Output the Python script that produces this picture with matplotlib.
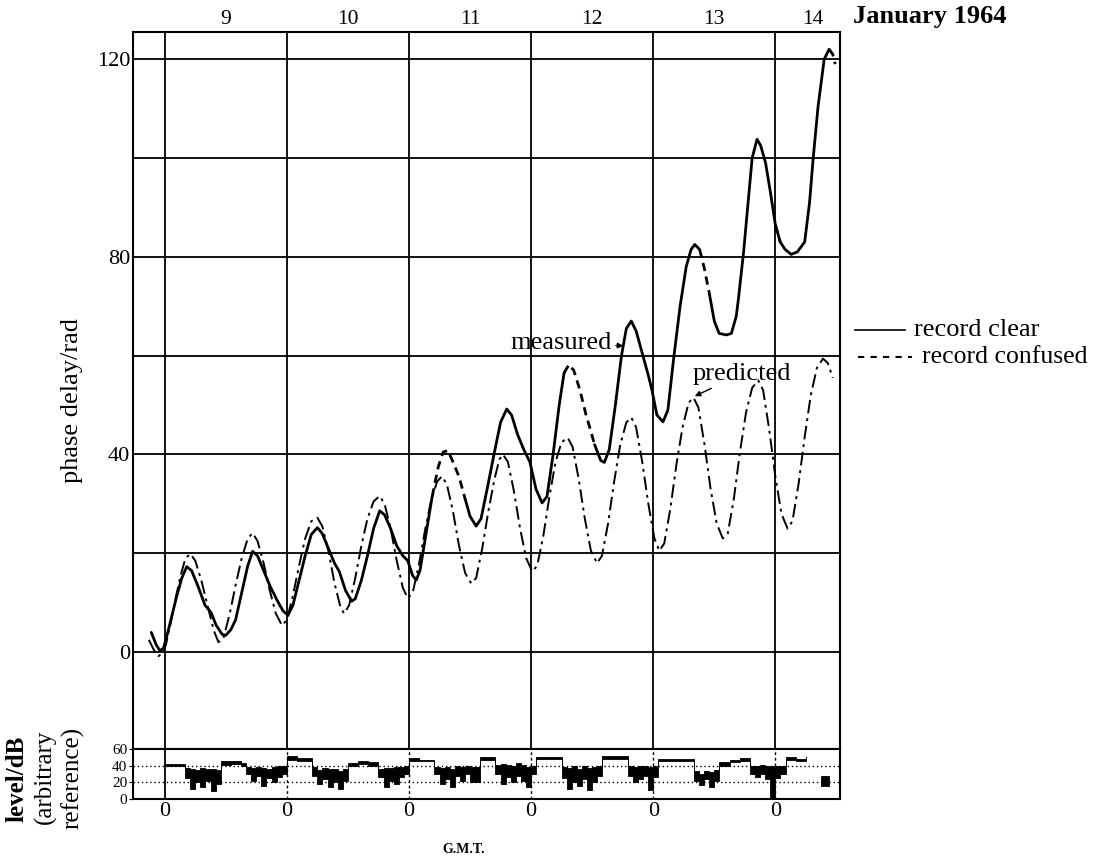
import matplotlib
matplotlib.use('Agg')
import matplotlib.pyplot as plt
import numpy as np
from matplotlib.lines import Line2D

plt.rcParams['font.family'] = ['Liberation Serif', 'DejaVu Serif']

# days after 0h GMT on 9 January 1964
meas_t = [-0.11, -0.07, -0.04, -0.01, 0.02, 0.06, 0.10, 0.14, 0.18, 0.22, 0.27, 0.33, 0.38, 0.42, 0.47, 0.50,
          0.54, 0.58, 0.63, 0.68, 0.72, 0.76, 0.81, 0.86, 0.92, 0.97, 1.01, 1.05, 1.10, 1.15, 1.20, 1.25,
          1.29, 1.34, 1.39, 1.43, 1.48, 1.53, 1.56, 1.61, 1.66, 1.71, 1.76, 1.80, 1.85, 1.90, 1.95, 1.99,
          2.03, 2.06, 2.09, 2.14, 2.19, 2.24, 2.28, 2.32, 2.36, 2.41, 2.46, 2.50, 2.55, 2.59, 2.64, 2.70,
          2.75, 2.80, 2.84, 2.89, 2.94, 2.99, 3.04, 3.09, 3.13, 3.18, 3.23, 3.27, 3.31, 3.35, 3.40, 3.45,
          3.48, 3.52, 3.57, 3.60, 3.64, 3.69, 3.74, 3.78, 3.82, 3.86, 3.91, 3.96, 3.99, 4.03, 4.08, 4.12,
          4.17, 4.22, 4.27, 4.31, 4.34, 4.38, 4.42, 4.46, 4.50, 4.54, 4.60, 4.64, 4.68, 4.70, 4.74, 4.78,
          4.81, 4.85, 4.88, 4.92, 4.96, 5.00, 5.04, 5.08, 5.13, 5.18, 5.21, 5.24, 5.28, 5.31, 5.35, 5.40,
          5.44, 5.47, 5.49]
meas_p = [4.0, 1.5, 0.3, 0.8, 3.5, 7.5, 11.5, 15.0, 17.3, 16.5, 13.5, 9.5, 8.0, 5.5, 3.6, 3.4,
          4.5, 6.5, 12.0, 17.5, 20.4, 19.5, 16.5, 13.5, 10.5, 8.3, 7.5, 9.5, 14.5, 19.5, 23.8, 25.2,
          24.0, 21.0, 18.0, 16.3, 12.5, 10.3, 10.8, 14.5, 19.5, 25.0, 28.6, 27.8, 25.0, 21.5, 19.5, 18.5,
          15.5, 14.6, 16.5, 24.0, 31.5, 37.5, 40.5, 40.8, 38.5, 35.5, 31.0, 27.5, 25.5, 27.0, 33.0, 40.5,
          46.5, 49.2, 48.0, 44.0, 41.0, 38.5, 33.0, 30.2, 31.5, 40.0, 50.0, 56.5, 58.2, 57.0, 53.0, 48.0,
          45.5, 42.0, 38.8, 38.4, 41.0, 50.0, 60.0, 65.5, 67.0, 65.0, 60.5, 56.0, 53.0, 48.0, 46.6, 49.0,
          60.0, 70.0, 78.0, 81.5, 82.5, 81.5, 77.5, 72.5, 67.0, 64.5, 64.2, 64.5, 68.0, 72.0, 81.0, 92.0,
          100.0, 103.8, 102.5, 99.0, 93.0, 86.5, 83.0, 81.5, 80.5, 81.0, 82.0, 83.0, 91.0, 100.0, 110.5, 120.0,
          122.0, 121.0, 119.0]
confused = [(2.19, 2.46), (3.27, 3.52), (4.38, 4.46), (5.00, 5.04), (5.44, 5.49)]

pred_t = [-0.13, -0.09, -0.05, -0.02, 0.01, 0.05, 0.09, 0.13, 0.17, 0.21, 0.25, 0.30, 0.35, 0.40, 0.44, 0.48,
          0.53, 0.58, 0.63, 0.68, 0.72, 0.76, 0.81, 0.86, 0.91, 0.96, 1.00, 1.05, 1.10, 1.15, 1.20, 1.25,
          1.29, 1.34, 1.39, 1.44, 1.47, 1.51, 1.56, 1.61, 1.66, 1.71, 1.76, 1.80, 1.85, 1.90, 1.95, 1.99,
          2.03, 2.08, 2.13, 2.18, 2.23, 2.27, 2.31, 2.36, 2.41, 2.46, 2.51, 2.55, 2.60, 2.65, 2.70, 2.74,
          2.77, 2.81, 2.86, 2.91, 2.96, 3.01, 3.05, 3.10, 3.15, 3.20, 3.25, 3.30, 3.34, 3.39, 3.44, 3.49,
          3.54, 3.58, 3.63, 3.68, 3.73, 3.78, 3.82, 3.86, 3.91, 3.96, 4.01, 4.05, 4.09, 4.14, 4.19, 4.24,
          4.29, 4.33, 4.37, 4.42, 4.47, 4.52, 4.57, 4.61, 4.66, 4.71, 4.76, 4.81, 4.86, 4.90, 4.95, 5.00,
          5.05, 5.10, 5.14, 5.19, 5.24, 5.29, 5.34, 5.39, 5.43, 5.47]
pred_p = [2.5, 0.5, -0.8, -0.2, 1.5, 6.0, 11.0, 15.5, 19.0, 19.9, 18.5, 14.5, 9.5, 4.5, 2.0, 2.8,
          7.5, 13.5, 19.0, 23.0, 24.1, 22.5, 18.0, 12.5, 7.8, 5.4, 6.5, 11.5, 17.5, 23.0, 26.5, 27.2,
          25.5, 20.5, 14.0, 9.0, 7.8, 9.5, 15.0, 21.5, 27.0, 30.5, 31.6, 30.0, 25.0, 18.5, 13.0, 10.9,
          12.0, 17.5, 24.5, 30.5, 34.5, 35.6, 34.0, 28.5, 21.5, 16.0, 13.9, 15.0, 21.0, 28.5, 35.0, 39.0,
          40.0, 38.5, 32.5, 25.0, 19.0, 16.3, 17.5, 23.5, 31.5, 38.5, 42.5, 43.4, 41.5, 35.0, 27.0, 20.5,
          18.0, 19.5, 26.0, 34.5, 42.0, 46.5, 47.5, 45.5, 38.5, 30.0, 23.0, 20.5, 22.0, 29.0, 38.0, 45.5,
          50.5, 51.5, 49.5, 42.0, 33.0, 26.0, 23.0, 24.0, 31.0, 40.5, 48.5, 53.5, 55.0, 53.0, 45.0, 35.5,
          28.0, 25.0, 26.5, 34.0, 43.5, 52.0, 57.5, 59.4, 58.5, 55.5]

# signal level, hours after 0h GMT on 9 January (step starts)
lvl_h = [0, 4, 5, 6, 7, 8, 9, 10, 11, 13, 15, 16, 17, 18, 19, 20, 21, 22, 23,
         24, 26, 29, 30, 31, 32, 33, 34, 35, 36, 38, 40, 42, 43, 44, 45, 46, 47,
         48, 50, 53, 54, 55, 56, 57, 58, 59, 60, 62, 65, 66, 67, 68, 69, 70, 71, 72,
         73, 78, 79, 80, 81, 82, 83, 84, 85, 86, 91, 92, 93, 94, 95, 96, 97,
         98, 104, 105, 106, 107, 108, 109, 111, 113, 115, 116, 117, 118, 119, 120, 121,
         122, 124, 126, 128, 129, 130.5]
lvl_lo = [39, 25, 12, 20, 14, 22, 10, 18, 41, 42, 40, 30, 22, 28, 16, 25, 20, 26, 30,
          47, 46, 28, 18, 24, 14, 20, 12, 22, 40, 42, 40, 26, 14, 22, 18, 26, 30,
          46, 45, 30, 18, 24, 15, 28, 22, 30, 20, 47, 30, 18, 26, 20, 28, 22, 14, 30,
          48, 25, 12, 20, 16, 24, 11, 20, 28, 48, 28, 20, 24, 28, 11, 26, 46,
          45, 22, 17, 24, 15, 22, 40, 44, 45, 30, 26, 30, 24, 1, 25, 30,
          47, 45, 48, np.nan, 16, 16]
lvl_hi = [42, 37, 36, 35, 37, 36, 36, 35, 45, 46, 43, 38, 37, 38, 37, 36, 38, 39, 40,
          51, 49, 38, 35, 37, 36, 36, 33, 36, 43, 45, 44, 36, 37, 37, 38, 38, 40,
          49, 47, 38, 37, 38, 36, 39, 38, 40, 38, 50, 41, 42, 41, 40, 43, 41, 38, 40,
          50, 38, 37, 39, 36, 39, 37, 38, 40, 51, 39, 38, 39, 40, 38, 39, 48,
          48, 34, 30, 34, 32, 35, 44, 47, 49, 40, 40, 41, 40, 40, 39, 40,
          50, 48, 50, np.nan, 27, 27]

day_labels = ['9', '10', '11', '12', '13', '14']
day_label_pos = [0.5, 1.5, 2.5, 3.5, 4.5, 5.31]

fig = plt.figure(figsize=(10.98, 8.61), dpi=100)
ax = fig.add_axes([0.1211, 0.1301, 0.644, 0.8327])
lax = fig.add_axes([0.1211, 0.0720, 0.644, 0.0581])
xlim = (-0.26, 5.53)

# main panel
for y in range(0, 121, 20):
    ax.axhline(y, color='black', lw=1.3, zorder=1)
for d in range(6):
    ax.axvline(d, color='black', lw=1.3, zorder=1)

t = np.array(meas_t)
p = np.array(meas_p)
inside = np.zeros(len(t), dtype=bool)
closed = np.zeros(len(t), dtype=bool)
for a, b in confused:
    inside |= (t > a) & (t < b)
    closed |= (t >= a) & (t <= b)
ax.plot(t, np.where(inside, np.nan, p), color='black', lw=2.0, solid_capstyle='round', zorder=3)
ax.plot(t, np.where(closed, p, np.nan), color='black', lw=2.0, linestyle=(0, (3, 2)), zorder=3)
ax.plot(pred_t, pred_p, color='black', lw=1.4, linestyle=(0, (7, 2.5, 1.5, 2.5)), zorder=2)

ax.set_xlim(*xlim)
ax.set_ylim(-19.6, 125.5)
ax.set_yticks([0, 40, 80, 120])
ax.set_xticks([])
ax.tick_params(axis='y', length=0, pad=2, labelsize=16)
for s in ax.spines.values():
    s.set_linewidth(1.5)

for lab, x in zip(day_labels, day_label_pos):
    ax.text(x, 1.004, lab, transform=ax.get_xaxis_transform(), ha='center', va='bottom', fontsize=15.5)

ax.annotate('measured', xy=(3.755, 62.0), xytext=(3.66, 62.5), ha='right', va='center', fontsize=19,
            arrowprops=dict(arrowstyle='-|>', lw=1, color='black', mutation_scale=8, shrinkA=1, shrinkB=0))
ax.annotate('predicted', xy=(4.34, 51.8), xytext=(4.32, 56.3), ha='left', va='center', fontsize=19,
            arrowprops=dict(arrowstyle='-|>', lw=1, color='black', mutation_scale=8, shrinkA=1, shrinkB=0))

# level panel
lt = np.array(lvl_h) / 24.0
lax.fill_between(lt, lvl_lo, lvl_hi, step='post', color='black', lw=0.6, edgecolor='black')
for y in (20, 40):
    lax.axhline(y, color='black', lw=1.0, linestyle=(0, (1, 2)), zorder=1)
for d in range(1, 6):
    lax.axvline(d, color='black', lw=1.0, linestyle=(0, (2, 2)), zorder=1)
lax.axvline(0, color='black', lw=1.3, zorder=1)
lax.set_xlim(*xlim)
lax.set_ylim(0, 60)
lax.set_yticks([0, 20, 40, 60])
lax.set_xticks(range(6))
lax.set_xticklabels(['0'] * 6)
lax.tick_params(axis='y', length=3, pad=1, labelsize=11)
lax.tick_params(axis='x', length=0, pad=2, labelsize=16)
for s in lax.spines.values():
    s.set_linewidth(1.5)

# text around the panels
fig.text(0.777, 0.9675, 'January 1964', ha='left', va='bottom', fontsize=19, fontweight='bold')
fig.text(0.066, 0.535, 'phase delay/rad', rotation=90, ha='center', va='center', fontsize=19)
fig.text(0.0155, 0.096, 'level/dB', rotation=90, ha='center', va='center', fontsize=18, fontweight='bold')
fig.text(0.041, 0.098, '(arbitrary', rotation=90, ha='center', va='center', fontsize=18)
fig.text(0.066, 0.096, 'reference)', rotation=90, ha='center', va='center', fontsize=18)
fig.text(0.422, 0.013, 'G.M.T.', ha='center', va='center', fontsize=10, fontweight='bold')

fig.add_artist(Line2D([0.779, 0.824], [0.617, 0.617], color='black', lw=1.2))
fig.text(0.832, 0.617, 'record clear', ha='left', va='center', fontsize=19)
fig.add_artist(Line2D([0.781, 0.831], [0.585, 0.585], color='black', lw=1.5, linestyle=(0, (3, 3))))
fig.text(0.840, 0.585, 'record confused', ha='left', va='center', fontsize=18.5)

plt.savefig('out.png', dpi=100)
